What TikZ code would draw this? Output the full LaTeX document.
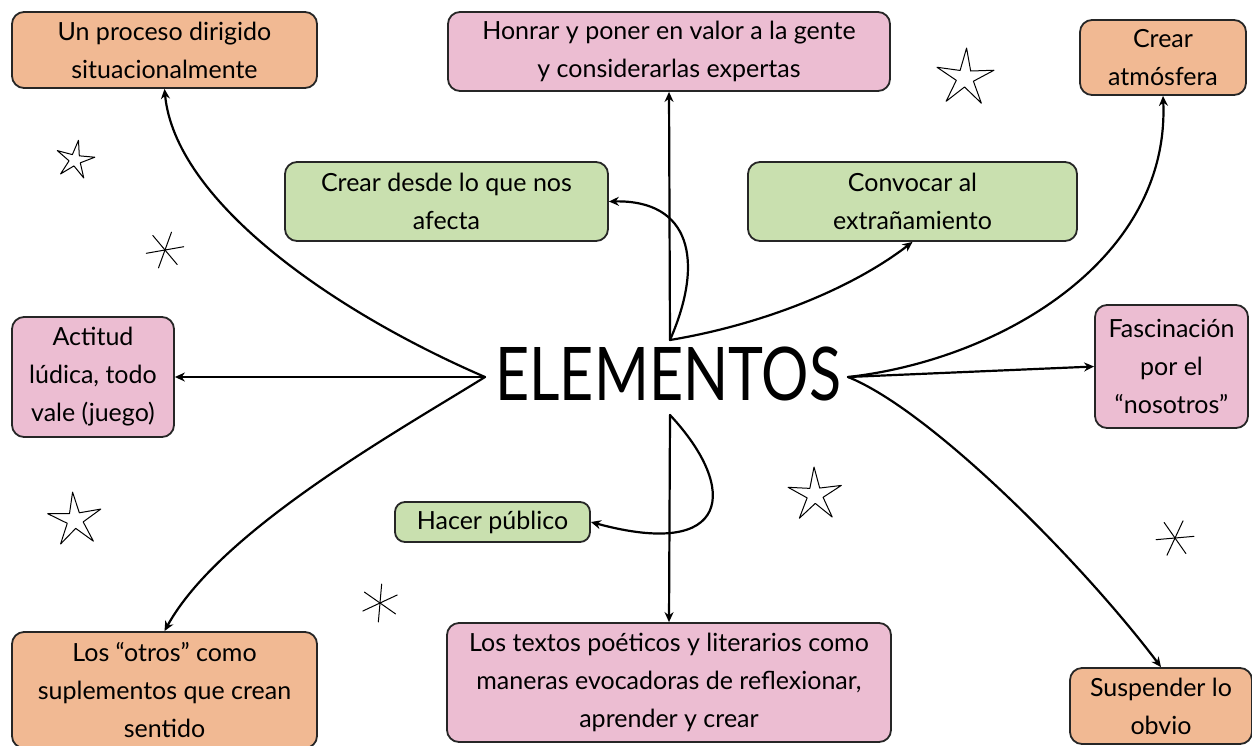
\documentclass[tikz,border=0pt]{standalone}
\usepackage{fontspec}
\setmainfont{Lato}
\usetikzlibrary{arrows.meta}
\definecolor{naranja}{HTML}{F1B993}
\definecolor{rosa}{HTML}{ECBDD2}
\definecolor{verde}{HTML}{C9E0AF}
% estrella de cinco puntas: centro, radio, giro
\newcommand{\estrella}[3]{\draw[garabato,shift={(#1)},rotate=#3] plot[samples at={0,...,9}] ({\x*36}:{ifthenelse(mod(\x,2)==0,#2,0.3*#2)}) -- cycle;}
% asterisco: centro, radio, giro
\newcommand{\asterisco}[3]{\foreach \g in {0,60,120} \draw[garabato,shift={(#1)},rotate=#3] (\g:#2)--(\g+180:#2);}
\begin{document}
\begin{tikzpicture}[x=1pt,y=-1pt, line join=round, line cap=round,
		caja/.style={draw=black!85, line width=1.8pt, rounded corners=12pt, align=center, inner sep=0pt,
			font=\fontsize{25}{38}\selectfont},
		flecha/.style={line width=2.2pt, -{Stealth[length=10pt,width=9pt]}},
		garabato/.style={line width=1pt}]
	\useasboundingbox (0,0) rectangle (1252,745);
	% cajas naranjas
	\node[caja, fill=naranja, minimum width=305, minimum height=76] (proceso) at (164.5,50) {Un proceso dirigido\\situacionalmente};
	\node[caja, fill=naranja, minimum width=166, minimum height=75] (atmosfera) at (1163,57.5) {Crear\\atmósfera};
	\node[caja, fill=naranja, minimum width=305, minimum height=116] (otros) at (164.5,690) {Los “otros” como\\suplementos que crean\\sentido};
	\node[caja, fill=naranja, minimum width=182, minimum height=76] (obvio) at (1161,706) {Suspender lo\\obvio};
	% cajas rosas
	\node[caja, fill=rosa, minimum width=442, minimum height=79] (honrar) at (669,51.5) {Honrar y poner en valor a la gente\\y considerarlas expertas};
	\node[caja, fill=rosa, minimum width=162, minimum height=120] (ludica) at (93,377) {Actitud\\lúdica, todo\\vale (juego)};
	\node[caja, fill=rosa, minimum width=153, minimum height=123] (nosotros) at (1171.5,366.5) {Fascinación\\por el\\“nosotros”};
	\node[caja, fill=rosa, minimum width=444, minimum height=119] (textos) at (669,682.5) {Los textos poéticos y literarios como\\maneras evocadoras de reflexionar,\\aprender y crear};
	% cajas verdes
	\node[caja, fill=verde, minimum width=323, minimum height=79] (afecta) at (446.5,201.5) {Crear desde lo que nos\\afecta};
	\node[caja, fill=verde, minimum width=329, minimum height=79] (extra) at (912.5,201.5) {Convocar al\\extrañamiento};
	\node[caja, fill=verde, minimum width=195, minimum height=40, rounded corners=10pt] (publico) at (492.5,522) {Hacer público};
	% centro
	\node[inner sep=0pt, font=\fontsize{74}{74}\selectfont] (elem) at (668,374) {\scalebox{0.8}[1]{ELEMENTOS}};
	\coordinate (izq) at (485,377);
	\coordinate (der) at (848,377);
	\coordinate (arr) at (670,340);
	\coordinate (aba) at (670,415);
	% conectores
	\draw[flecha] (izq) .. controls (330,310) and (175,200) .. (proceso.south);
	\draw[flecha] (izq) -- (ludica.east);
	\draw[flecha] (izq) .. controls (400,430) and (220,530) .. (otros.north);
	\draw[flecha] (arr) -- (honrar.south);
	\draw[flecha] (arr) .. controls (705,260) and (690,200) .. (afecta.east);
	\draw[flecha] (arr) .. controls (760,325) and (850,290) .. (extra.south);
	\draw[flecha] (der) .. controls (1000,360) and (1170,260) .. (atmosfera.south);
	\draw[flecha] (der) -- (nosotros.west);
	\draw[flecha] (der) .. controls (930,410) and (1080,560) .. (obvio.north);
	\draw[flecha] (aba) -- (textos.north);
	\draw[flecha] (aba) .. controls (740,490) and (730,560) .. (publico.east);
	% adornos
	\estrella{75,160}{20}{80}
	\estrella{965,78}{30}{15}
	\estrella{75,520}{28}{95}
	\estrella{815,495}{28}{20}
	\asterisco{165,250}{19}{10}
	\asterisco{380,603}{19}{25}
	\asterisco{1175,538}{19}{5}
\end{tikzpicture}
\end{document}
